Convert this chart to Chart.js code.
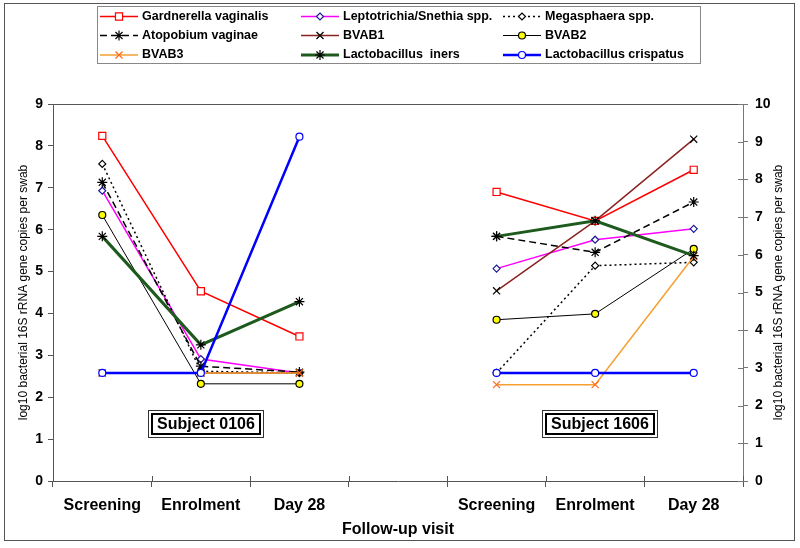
<!DOCTYPE html>
<html>
<head>
<meta charset="utf-8">
<script src="https://cdn.jsdelivr.net/npm/chart.js@4.4.0/dist/chart.umd.min.js"></script>
<style>
body{margin:0;background:#fff;}
#div_chart{width:800px;height:548px;}
</style>
</head>
<body>
<div id="div_chart"><canvas id="chart" width="800" height="548"></canvas></div>
<script>
// visitas: 3 por sujeto, con un hueco en medio
var visitas = ['Screening','Enrolment','Day 28','','Screening','Enrolment','Day 28'];

var gardnerella  = [8.24, 4.53, 3.45, null, 6.90, 6.21, 7.43];
var leptotrichia = [6.93, 2.91, 2.58, null, 5.07, 5.76, 6.02];
var megasphaera  = [7.57, 2.62, 2.58, null, 2.58, 5.14, 5.22];
var atopobium    = [7.13, 2.74, 2.60, null, 5.84, 5.46, 6.66];
var bvab1        = [2.58, 2.58, 2.58, null, 4.54, 6.21, 8.16];
var bvab2        = [6.35, 2.32, 2.32, null, 3.85, 3.99, 5.54];
var bvab3        = [2.58, 2.58, 2.58, null, 2.30, 2.30, 5.36];
var iners        = [5.84, 3.25, 4.28, null, 5.84, 6.21, 5.38];
var crispatus    = [2.58, 2.58, 8.22, null, 2.58, 2.58, 2.58];

var ticksIzq = [0,1,2,3,4,5,6,7,8,9];
var ticksDer = [0,1,2,3,4,5,6,7,8,9,10];

var sujetos = ['Subject 0106','Subject 1606'];
var sujetoVisita = [1, 5];
var sujetoNivel = 1.35;

var tituloY = 'log10 bacterial 16S rRNA gene copies per swab';
var tituloX = 'Follow-up visit';

var fuente = '"Liberation Sans", Arial, sans-serif';
Chart.defaults.font.family = fuente;
Chart.defaults.color = '#000';

var serie = function(nombre, datos, color, ancho, dash, punto, radio, borde, relleno){
    return {
        label: nombre,
        data: datos,
        borderColor: color,
        borderWidth: ancho,
        borderDash: dash,
        pointStyle: punto,
        pointRadius: radio,
        pointBorderColor: borde,
        pointBackgroundColor: relleno,
        pointBorderWidth: 1.2,
        backgroundColor: relleno,
        fill: false,
        tension: 0,
        spanGaps: false
    };
};

var datasets = [
    serie('Gardnerella vaginalis', gardnerella, '#FF0000', 1.5, [], 'rect', 5, '#FF0000', '#FFFFFF'),
    serie('Leptotrichia/Snethia spp.', leptotrichia, '#FF00FF', 1.5, [], 'rectRot', 3.5, '#1A1A99', '#FFFFFF'),
    serie('Megasphaera spp.', megasphaera, '#000000', 1.5, [2,3], 'rectRot', 3.5, '#000000', '#FFFFFF'),
    serie('Atopobium vaginae', atopobium, '#000000', 1.5, [7,4], 'star', 5, '#000000', '#000000'),
    serie('BVAB1', bvab1, '#8B2323', 1.5, [], 'crossRot', 5, '#000000', '#000000'),
    serie('BVAB2', bvab2, '#000000', 1, [], 'circle', 3.5, '#000000', '#FFFF00'),
    serie('BVAB3', bvab3, '#F5A033', 1.5, [], 'crossRot', 5, '#FF6A1A', '#FF6A1A'),
    serie('Lactobacillus  iners', iners, '#1E5A1E', 3, [], 'star', 5, '#000000', '#000000'),
    serie('Lactobacillus crispatus', crispatus, '#0000FF', 2.5, [], 'circle', 3.5, '#0000FF', '#FFFFFF')
];
// las ultimas series van encima
datasets.forEach(function(d, i){ d.order = datasets.length - 1 - i; });

var ponerTicks = function(lista){
    return function(scale){
        scale.ticks = lista.map(function(v){ return {value: v}; });
    };
};

var marco = {
    id: 'marco',
    beforeDraw: function(chart){
        var ctx = chart.ctx;
        var a = chart.chartArea;
        ctx.save();
        ctx.fillStyle = '#FFFFFF';
        ctx.fillRect(0, 0, chart.width, chart.height);
        ctx.strokeStyle = '#555';
        ctx.lineWidth = 1;
        ctx.strokeRect(4.5, 3.5, 790, 537);
        ctx.strokeStyle = '#888';
        ctx.strokeRect(97.5, 6.5, 603, 57);
        ctx.strokeStyle = '#555';
        ctx.beginPath();
        ctx.moveTo(a.left, Math.round(a.top) + 0.5);
        ctx.lineTo(a.right, Math.round(a.top) + 0.5);
        ctx.stroke();
        ctx.restore();
    },
    afterDraw: function(chart){
        var ctx = chart.ctx;
        var a = chart.chartArea;
        var xs = chart.scales.x, ys = chart.scales.y, ys2 = chart.scales.y2;
        ctx.save();

        // marcas que cruzan hacia dentro (eje x y eje derecho)
        ctx.lineWidth = 1;
        ctx.strokeStyle = '#555';
        var paso = xs.getPixelForValue(1) - xs.getPixelForValue(0);
        ctx.beginPath();
        for (var i = 0; i <= visitas.length; i++) {
            var bx = Math.round(xs.getPixelForValue(0) - paso / 2 + i * paso) + 0.5;
            ctx.moveTo(bx, a.bottom - 5);
            ctx.lineTo(bx, a.bottom);
        }
        ctx.stroke();
        ctx.strokeStyle = '#777';
        ctx.beginPath();
        ticksDer.forEach(function(v){
            var by = Math.round(ys2.getPixelForValue(v)) + 0.5;
            ctx.moveTo(a.right - 5, by);
            ctx.lineTo(a.right, by);
        });
        ctx.stroke();

        // leyenda en 3 columnas
        var colX = [100, 301, 503];
        var filaY = [16.5, 35.5, 55];
        chart.data.datasets.forEach(function(d, i){
            var x0 = colX[i % 3], y0 = filaY[Math.floor(i / 3)];
            ctx.strokeStyle = d.borderColor;
            ctx.lineWidth = d.borderWidth;
            ctx.setLineDash(d.borderDash || []);
            ctx.beginPath();
            ctx.moveTo(x0, y0);
            ctx.lineTo(x0 + 38, y0);
            ctx.stroke();
            ctx.setLineDash([]);
            ctx.strokeStyle = d.pointBorderColor;
            ctx.fillStyle = d.pointBackgroundColor;
            ctx.lineWidth = d.pointBorderWidth;
            Chart.helpers.drawPoint(ctx, {pointStyle: d.pointStyle, radius: d.pointRadius, rotation: 0, borderWidth: d.pointBorderWidth}, x0 + 19, y0);
            ctx.fillStyle = '#000';
            ctx.font = 'bold 12.5px ' + fuente;
            ctx.textAlign = 'left';
            ctx.textBaseline = 'middle';
            ctx.fillText(d.label, x0 + 42, y0);
        });

        // cajas de sujeto
        sujetos.forEach(function(s, i){
            var cx = Math.round(xs.getPixelForValue(sujetoVisita[i])) + 5;
            var cy = Math.round(ys.getPixelForValue(sujetoNivel));
            ctx.fillStyle = '#FFFFFF';
            ctx.fillRect(cx - 57, cy - 13, 115, 27);
            ctx.strokeStyle = '#333';
            ctx.lineWidth = 1;
            ctx.strokeRect(cx - 57.5, cy - 13.5, 115, 27);
            ctx.strokeStyle = '#000';
            ctx.lineWidth = 2;
            ctx.strokeRect(cx - 54, cy - 10, 108, 20);
            ctx.fillStyle = '#000';
            ctx.font = 'bold 16px ' + fuente;
            ctx.textAlign = 'center';
            ctx.textBaseline = 'middle';
            ctx.fillText(s, cx, cy + 1);
        });

        // titulo del eje derecho (se lee de abajo hacia arriba)
        ctx.translate(779, (a.top + a.bottom) / 2);
        ctx.rotate(-Math.PI / 2);
        ctx.font = '12px ' + fuente;
        ctx.textAlign = 'center';
        ctx.textBaseline = 'middle';
        ctx.fillText(tituloY, 0, 0);
        ctx.restore();
    }
};

new Chart(document.getElementById('chart'), {
    type: 'line',
    data: {
        labels: visitas,
        datasets: datasets
    },
    options: {
        responsive: false,
        animation: false,
        layout: { padding: { top: 104, left: 0, right: 0, bottom: 0 } },
        plugins: {
            legend: { display: false },
            tooltip: { enabled: false }
        },
        scales: {
            x: {
                type: 'category',
                offset: true,
                afterFit: function(s){ s.height = 67; },
                grid: { offset: true, drawOnChartArea: false, tickLength: 6, color: '#555' },
                border: { color: '#555', width: 1 },
                ticks: { font: { size: 16, weight: 'bold' }, padding: 9, maxRotation: 0, autoSkip: false },
                title: { display: true, text: tituloX, font: { size: 16, weight: 'bold' }, padding: { top: 0, bottom: 9 } }
            },
            y: {
                position: 'left',
                min: 0,
                max: 9,
                afterFit: function(s){ s.width = 53; },
                afterBuildTicks: ponerTicks(ticksIzq),
                grid: { drawOnChartArea: false, tickLength: 5, color: '#555' },
                border: { color: '#555', width: 1 },
                ticks: { font: { size: 14, weight: 'bold' }, padding: 5 },
                title: { display: true, text: tituloY, font: { size: 12 }, padding: { top: 16, bottom: 0 } }
            },
            y2: {
                position: 'right',
                min: 0,
                max: 10,
                afterFit: function(s){ s.width = 57; },
                afterBuildTicks: ponerTicks(ticksDer),
                grid: { drawOnChartArea: false, tickLength: 5, color: '#777' },
                border: { color: '#777', width: 1 },
                ticks: { font: { size: 14, weight: 'bold' }, padding: 7 }
            }
        }
    },
    plugins: [marco]
});
</script>
</body>
</html>
